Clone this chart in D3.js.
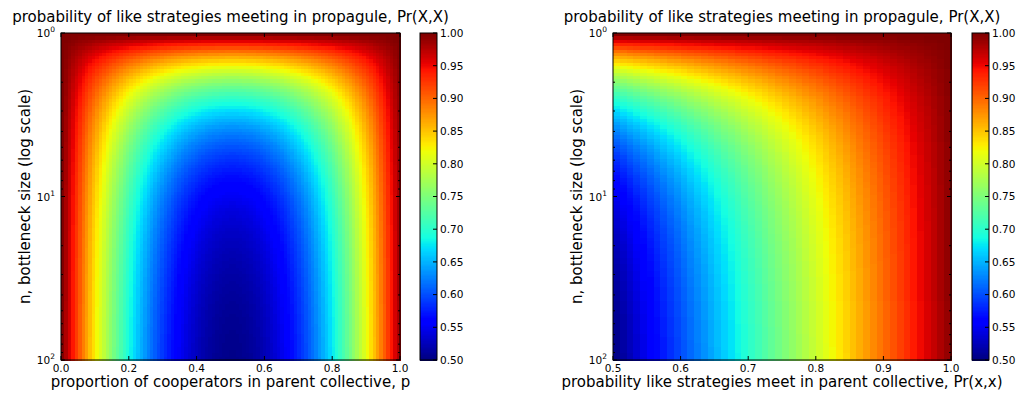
<!DOCTYPE html>
<html>
<head>
<meta charset="utf-8">
<script src="https://cdn.jsdelivr.net/npm/d3@7"></script>
<style>
  body { margin: 0; background: #fff; }
  text { font-family: "DejaVu Sans", sans-serif; fill: #000; }
</style>
</head>
<body>
<div id="chart"></div>
<script>
// chart data
const titleText = "probability of like strategies meeting in propagule, Pr(X,X)";
const yLabelText = "n, bottleneck size (log scale)";
const leftXLabel = "proportion of cooperators in parent collective, p";
const rightXLabel = "probability like strategies meet in parent collective, Pr(x,x)";
const leftXTicks = [0.0, 0.2, 0.4, 0.6, 0.8, 1.0];
const rightXTicks = [0.5, 0.6, 0.7, 0.8, 0.9, 1.0];
const yMajorTicks = [1, 10, 100];
const yMinorTicks = [2, 3, 4, 5, 6, 7, 8, 9, 20, 30, 40, 50, 60, 70, 80, 90];
const colorTicks = [0.50, 0.55, 0.60, 0.65, 0.70, 0.75, 0.80, 0.85, 0.90, 0.95, 1.00];

// grids of the plotted surface (n log spaced 1..100, p 0..1, Pr(x,x) 0.5..1)
const bottleneckSizes = d3.range(100).map(i => Math.pow(10, 2 * i / 99));
const cooperatorShares = d3.range(100).map(i => i / 99);
const parentLikeProbs = d3.range(51).map(i => 0.5 + i / 100);

// Pr(X,X) in a propagule of size n drawn from a parent where like strategies meet with prob q
const propaguleLike = (q, n) => 1 / n + (1 - 1 / n) * q;

const width = 1017, height = 394;

// matplotlib "jet", 256 entries
const jetSeg = {
  r: [[0, 0], [0.35, 0], [0.66, 1], [0.89, 1], [1, 0.5]],
  g: [[0, 0], [0.125, 0], [0.375, 1], [0.64, 1], [0.91, 0], [1, 0]],
  b: [[0, 0.5], [0.11, 1], [0.34, 1], [0.65, 0], [1, 0]]
};
function seg(pts, x) {
  for (let i = 1; i < pts.length; i++) {
    if (x <= pts[i][0]) {
      const [x0, y0] = pts[i - 1], [x1, y1] = pts[i];
      return y0 + (y1 - y0) * (x - x0) / (x1 - x0);
    }
  }
  return pts[pts.length - 1][1];
}
const lut = d3.range(256).map(i => {
  const x = i / 255;
  return d3.rgb(seg(jetSeg.r, x) * 255, seg(jetSeg.g, x) * 255, seg(jetSeg.b, x) * 255).formatHex();
});
const norm = d3.scaleLinear().domain([0.5, 1.0]).range([0, 1]);
const jet = v => {
  let idx = Math.floor(norm(v) * 256);
  idx = Math.max(0, Math.min(255, idx));
  return lut[idx];
};

const svg = d3.select("#chart")
  .append("svg")
  .attr("width", width)
  .attr("height", height);

const plotTop = 33, plotBottom = 360;

function panel(opt) {
  const x = d3.scaleLinear().domain(opt.xDomain).range([opt.left, opt.right]);
  const y = d3.scaleLog().domain([1, 100]).range([plotTop, plotBottom]);
  const g = svg.append("g");

  // cells (pcolor style: value at lower corner of each cell)
  const cells = [];
  for (let j = 0; j < bottleneckSizes.length - 1; j++) {
    for (let i = 0; i < opt.xs.length - 1; i++) {
      cells.push({
        x0: opt.xs[i], x1: opt.xs[i + 1],
        n0: bottleneckSizes[j], n1: bottleneckSizes[j + 1],
        v: propaguleLike(opt.q(opt.xs[i]), bottleneckSizes[j])
      });
    }
  }
  g.append("g").selectAll("rect").data(cells).enter().append("rect")
    .attr("x", d => x(d.x0))
    .attr("y", d => y(d.n0))
    .attr("width", d => x(d.x1) - x(d.x0) + 0.5)
    .attr("height", d => y(d.n1) - y(d.n0) + 0.5)
    .attr("fill", d => jet(d.v))
    .attr("shape-rendering", "crispEdges");

  // frame
  g.append("rect")
    .attr("x", opt.left).attr("y", plotTop)
    .attr("width", opt.right - opt.left).attr("height", plotBottom - plotTop)
    .attr("fill", "none").attr("stroke", "#000").attr("stroke-width", 1);

  // x ticks (bottom and top, inward)
  opt.xTicks.forEach(t => {
    const px = x(t);
    g.append("line").attr("x1", px).attr("x2", px).attr("y1", plotBottom).attr("y2", plotBottom - 4).attr("stroke", "#000");
    g.append("line").attr("x1", px).attr("x2", px).attr("y1", plotTop).attr("y2", plotTop + 4).attr("stroke", "#000");
    g.append("text").attr("x", px).attr("y", 372)
      .attr("text-anchor", "middle").attr("font-size", "10.5px")
      .text(t.toFixed(1));
  });

  // y ticks
  yMajorTicks.forEach(t => {
    const py = y(t);
    g.append("line").attr("x1", opt.left).attr("x2", opt.left + 4).attr("y1", py).attr("y2", py).attr("stroke", "#000");
    g.append("line").attr("x1", opt.right).attr("x2", opt.right - 4).attr("y1", py).attr("y2", py).attr("stroke", "#000");
    const lab = g.append("text").attr("x", opt.left - 6).attr("y", py + 4)
      .attr("text-anchor", "end").attr("font-size", "10.5px");
    lab.append("tspan").text("10");
    lab.append("tspan").attr("font-size", "7.5px").attr("dy", -5).text(Math.round(Math.log10(t)));
  });
  yMinorTicks.forEach(t => {
    const py = y(t);
    g.append("line").attr("x1", opt.left).attr("x2", opt.left + 2).attr("y1", py).attr("y2", py).attr("stroke", "#000");
    g.append("line").attr("x1", opt.right).attr("x2", opt.right - 2).attr("y1", py).attr("y2", py).attr("stroke", "#000");
  });

  // title and axis labels
  g.append("text").attr("x", (opt.left + opt.right) / 2).attr("y", 22)
    .attr("text-anchor", "middle").attr("font-size", "15px").text(titleText);
  g.append("text").attr("x", (opt.left + opt.right) / 2).attr("y", 387)
    .attr("text-anchor", "middle").attr("font-size", "15px").text(opt.xLabel);
  g.append("text")
    .attr("transform", `translate(${opt.left - 31},${(plotTop + plotBottom) / 2}) rotate(-90)`)
    .attr("text-anchor", "middle").attr("font-size", "15px").text(yLabelText);

  // colorbar
  const cb = svg.append("g");
  const cy = d3.scaleLinear().domain([0.5, 1.0]).range([plotBottom, plotTop]);
  const steps = d3.range(256).map(i => 0.5 + 0.5 * (i + 0.5) / 256);
  cb.selectAll("rect").data(steps).enter().append("rect")
    .attr("x", opt.cbLeft)
    .attr("y", d => cy(d + 0.25 / 256))
    .attr("width", 17)
    .attr("height", (plotBottom - plotTop) / 256 + 0.6)
    .attr("fill", d => jet(d))
    .attr("shape-rendering", "crispEdges");
  cb.append("rect")
    .attr("x", opt.cbLeft).attr("y", plotTop).attr("width", 17).attr("height", plotBottom - plotTop)
    .attr("fill", "none").attr("stroke", "#000");
  colorTicks.forEach(t => {
    const py = cy(t);
    cb.append("line").attr("x1", opt.cbLeft + 17).attr("x2", opt.cbLeft + 13)
      .attr("y1", py).attr("y2", py).attr("stroke", "#000");
    cb.append("text").attr("x", opt.cbLeft + 20).attr("y", py + 3.8)
      .attr("font-size", "10.5px").text(t.toFixed(2));
  });
}

panel({
  left: 61, right: 400, xDomain: [0, 1],
  xs: cooperatorShares, q: p => p * p + (1 - p) * (1 - p),
  xTicks: leftXTicks, xLabel: leftXLabel, cbLeft: 420
});
panel({
  left: 613, right: 951, xDomain: [0.5, 1],
  xs: parentLikeProbs, q: r => r,
  xTicks: rightXTicks, xLabel: rightXLabel, cbLeft: 972
});
</script>
</body>
</html>
